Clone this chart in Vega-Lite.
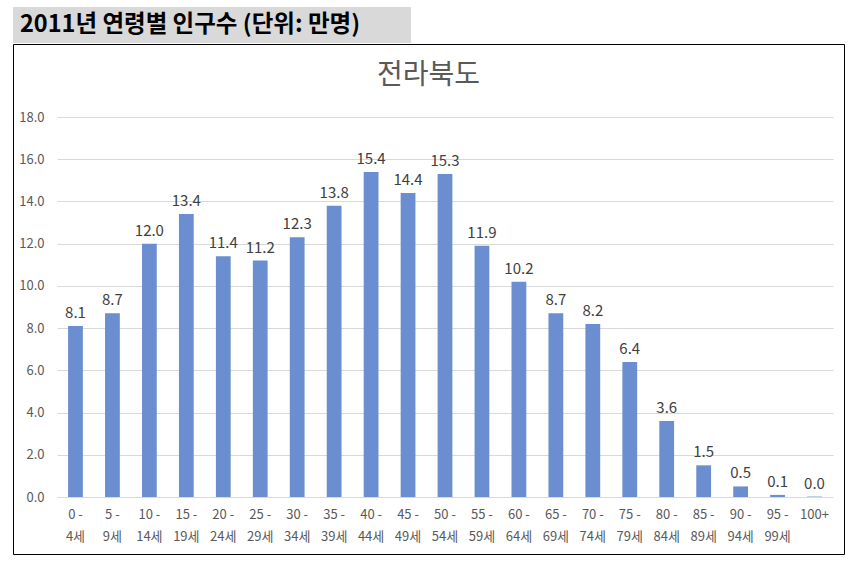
{
  "$schema": "https://vega.github.io/schema/vega-lite/v6.json",
  "padding": {"left": 12, "top": 7, "right": 9, "bottom": 11},
  "autosize": {"type": "pad"},
  "background": "white",
  "config": {
    "font": "Noto Sans CJK KR",
    "concat": {"spacing": 0}
  },
  "vconcat": [
    {
      "width": 398,
      "height": 36,
      "view": {"fill": "#d9d9d9", "stroke": null},
      "data": {"values": [{"label": "2011년 연령별 인구수 (단위: 만명)"}]},
      "mark": {
        "type": "text",
        "align": "left",
        "baseline": "middle",
        "dx": -192,
        "fontSize": 23.5,
        "fontWeight": "bold",
        "color": "#000000"
      },
      "encoding": {"text": {"field": "label"}}
    },
    {
      "width": 831,
      "height": 510,
      "view": {"stroke": "#000000", "strokeWidth": 1, "fill": "white"},
      "layer": [
        {
          "data": {
            "values": [
              {"age": "0 -\n4세", "pop": 8.1},
              {"age": "5 -\n9세", "pop": 8.7},
              {"age": "10 -\n14세", "pop": 12.0},
              {"age": "15 -\n19세", "pop": 13.4},
              {"age": "20 -\n24세", "pop": 11.4},
              {"age": "25 -\n29세", "pop": 11.2},
              {"age": "30 -\n34세", "pop": 12.3},
              {"age": "35 -\n39세", "pop": 13.8},
              {"age": "40 -\n44세", "pop": 15.4},
              {"age": "45 -\n49세", "pop": 14.4},
              {"age": "50 -\n54세", "pop": 15.3},
              {"age": "55 -\n59세", "pop": 11.9},
              {"age": "60 -\n64세", "pop": 10.2},
              {"age": "65 -\n69세", "pop": 8.7},
              {"age": "70 -\n74세", "pop": 8.2},
              {"age": "75 -\n79세", "pop": 6.4},
              {"age": "80 -\n84세", "pop": 3.6},
              {"age": "85 -\n89세", "pop": 1.5},
              {"age": "90 -\n94세", "pop": 0.5},
              {"age": "95 -\n99세", "pop": 0.1},
              {"age": "100+", "pop": 0.02}
            ]
          },
          "encoding": {
            "x": {
              "field": "age",
              "type": "nominal",
              "sort": null,
              "title": null,
              "scale": {"type": "band", "range": [44, 820], "paddingInner": 0.6, "paddingOuter": 0.3},
              "axis": {
                "offset": -57,
                "domain": false,
                "ticks": false,
                "tickSize": 0,
                "grid": false,
                "labelAngle": 0,
                "labelPadding": 11,
                "labelFontSize": 13,
                "labelColor": "#595959",
                "labelLineHeight": 22,
                "labelOverlap": false,
                "labelExpr": "split(datum.label, '\\n')"
              }
            },
            "y": {
              "field": "pop",
              "type": "quantitative",
              "title": null,
              "scale": {"domain": [0, 18], "range": [453, 73], "nice": false},
              "axis": {
                "offset": -36,
                "values": [0, 2, 4, 6, 8, 10, 12, 14, 16, 18],
                "format": ".1f",
                "domain": false,
                "ticks": false,
                "tickSize": 0,
                "labelPadding": 5,
                "labelFontSize": 13,
                "labelColor": "#595959",
                "gridColor": "#d9d9d9",
                "gridWidth": 1
              }
            }
          },
          "layer": [
            {"mark": {"type": "bar", "color": "#6a8ecf"}},
            {
              "mark": {"type": "text", "baseline": "bottom", "dy": -5, "fontSize": 15, "color": "#404040"},
              "encoding": {"text": {"field": "pop", "type": "quantitative", "format": ".1f"}}
            }
          ]
        },
        {
          "data": {"values": [{"label": "전라북도"}]},
          "mark": {
            "type": "text",
            "align": "center",
            "baseline": "middle",
            "dy": -223,
            "fontSize": 28,
            "color": "#595959"
          },
          "encoding": {"text": {"field": "label"}}
        }
      ]
    }
  ]
}
